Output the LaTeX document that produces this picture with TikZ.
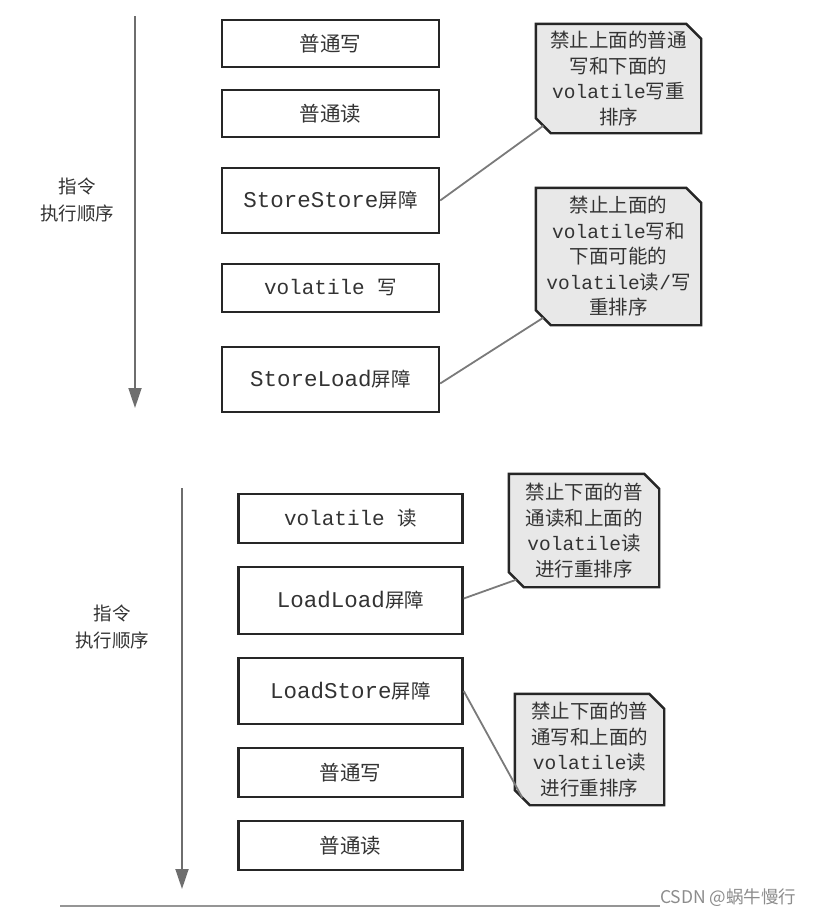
\documentclass[tikz,border=0pt]{standalone}
\usepackage{fontspec}
\setmainfont{Liberation Mono}
\newfontfamily\cjk{Noto Sans CJK SC}
\newcommand\C[1]{{\cjk\fontsize{19.5}{25.5}\selectfont #1}}
\usetikzlibrary{arrows.meta,calc,backgrounds}
\definecolor{txt}{HTML}{333333}
\definecolor{boxline}{HTML}{262626}
\definecolor{conn}{HTML}{7a7a7a}
\definecolor{arr}{HTML}{6e6e6e}
\definecolor{callfill}{HTML}{E8E8E8}
\definecolor{wm}{HTML}{8C8C8C}
\begin{document}
\begin{tikzpicture}[x=1pt,y=-1pt,
  box/.style={draw=boxline,line width=2.4pt,fill=white,inner sep=0pt,text=txt,
    font=\fontsize{21}{25}\selectfont},
  cjkbox/.style={box,font=\cjk\fontsize{20.5}{25}\selectfont},
  barbox/.style={box,font=\fontsize{22.5}{25}\selectfont},
  callout/.style={inner sep=0pt,align=center,text=txt,font=\fontsize{19.5}{25.5}\selectfont},
  calloutline/.style={draw=boxline,line width=2.4pt,fill=callfill,line join=miter},
  conline/.style={draw=conn,line width=1.8pt},
  timearrow/.style={draw=arr,line width=1.8pt,-{Triangle[width=13pt,length=20pt]}},
  lbl/.style={text=txt,font=\cjk\fontsize{18.5}{27}\selectfont,align=center,inner sep=0pt}
]
\useasboundingbox (0,0) rectangle (812,918);

% ---------- upper part ----------
\coordinate (a1s) at (135,16);
\coordinate (a1e) at (135,408);
\draw[timearrow] (a1s) -- (a1e);
\node[lbl] (l1) at (77,200) {指令\\执行顺序};

\node[cjkbox,minimum width=217pt,minimum height=47pt] (b1) at (330.5,43.3) {普通写};
\node[cjkbox,minimum width=217pt,minimum height=47pt] (b2) at (330.5,113.5) {普通读};
\node[barbox,minimum width=217pt,minimum height=65pt] (b3) at (330.5,200.5) {StoreStore\C{屏障}};
\node[box,minimum width=217pt,minimum height=48pt] (b4) at (330.5,288) {volatile \C{写}};
\node[barbox,minimum width=217pt,minimum height=65pt] (b5) at (330.5,379.5) {StoreLoad\C{屏障}};

\node[callout,minimum width=165pt,minimum height=109pt] (c1) at (618.5,78.5)
  {\C{禁止上面的普通}\\\C{写和下面的}\\volatile\C{写重}\\\C{排序}};
\node[callout,minimum width=165pt,minimum height=137pt] (c2) at (618.5,256.5)
  {\C{禁止上面的}\\volatile\C{写和}\\\C{下面可能的}\\volatile\C{读}/\C{写}\\\C{重排序}};

% ---------- lower part ----------
\coordinate (a2s) at (182,488);
\coordinate (a2e) at (182,889);
\draw[timearrow] (a2s) -- (a2e);
\node[lbl] (l2) at (112,627) {指令\\执行顺序};

\node[box,minimum width=224pt,minimum height=49pt] (d1) at (350.5,518.5) {volatile \C{读}};
\node[barbox,minimum width=224pt,minimum height=67pt] (d2) at (350.5,600.5) {LoadLoad\C{屏障}};
\node[barbox,minimum width=224pt,minimum height=66pt] (d3) at (350.5,691) {LoadStore\C{屏障}};
\node[cjkbox,minimum width=224pt,minimum height=49pt] (d4) at (350.5,772.5) {普通写};
\node[cjkbox,minimum width=224pt,minimum height=49pt] (d5) at (350.5,845.5) {普通读};

\node[callout,minimum width=150pt,minimum height=113pt] (c3) at (584,530.5)
  {\C{禁止下面的普}\\\C{通读和上面的}\\volatile\C{读}\\\C{进行重排序}};
\node[callout,minimum width=149pt,minimum height=111pt] (c4) at (589.5,749.5)
  {\C{禁止下面的普}\\\C{通写和上面的}\\volatile\C{读}\\\C{进行重排序}};

% callout outlines (chamfered at top right and bottom left)
\begin{scope}[on background layer]
\foreach \c in {c1,c2,c3,c4}{
  \draw[calloutline] (\c.north west) -- ($(\c.north east)+(-15,0)$) -- ($(\c.north east)+(0,15)$)
    -- (\c.south east) -- ($(\c.south west)+(15,0)$) -- ($(\c.south west)+(0,-15)$) -- cycle;
  \coordinate (\c t) at ($(\c.south west)+(7.5,-7.5)$);
}
\end{scope}

% connectors
\draw[conline] (b3.east) -- (c1t);
\draw[conline] ([yshift=-4pt]b5.east) -- (c2t);
\draw[conline] ([yshift=2pt]d2.east) -- (c3t);
\draw[conline] (d3.east) -- (c4t);

% bottom rule and watermark
\coordinate (r1) at (60,906);
\coordinate (r2) at (660,906);
\draw[draw=conn!80,line width=1.2pt] (r1) -- (r2);
\node[text=wm,font=\cjk\fontsize{17.5}{20}\selectfont,inner sep=0pt,anchor=west] (wmk) at (660,898) {CSDN @蜗牛慢行};
\end{tikzpicture}
\end{document}
